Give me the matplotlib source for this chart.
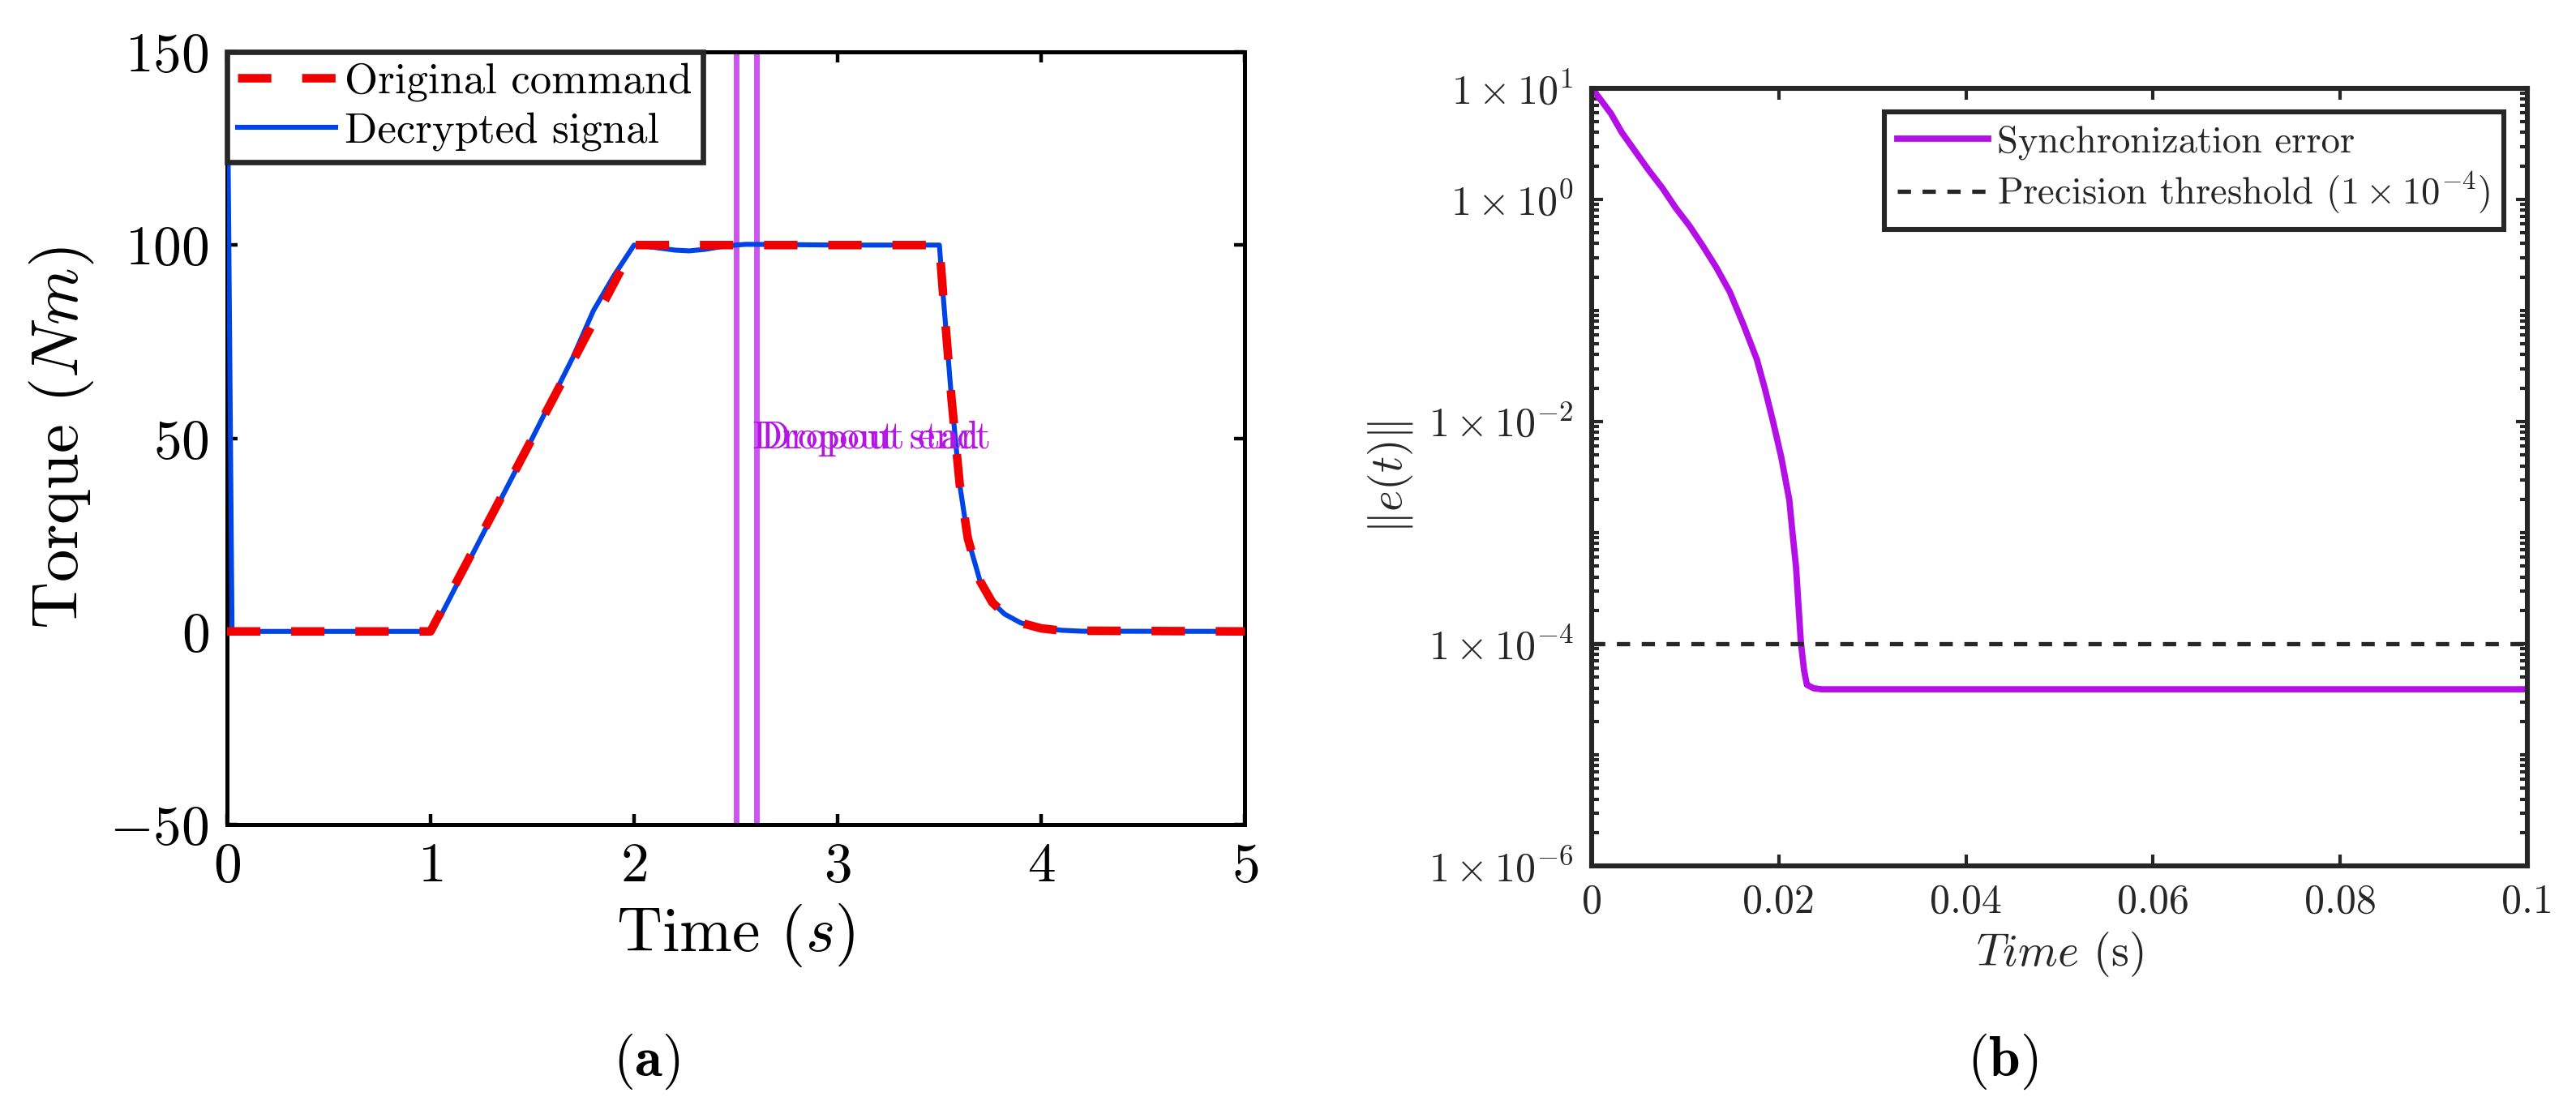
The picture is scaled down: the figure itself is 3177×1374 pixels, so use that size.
import math
import matplotlib
matplotlib.use("Agg")
import matplotlib.pyplot as plt
from matplotlib.ticker import FixedLocator, FuncFormatter, LogLocator, NullFormatter

plt.rcParams['font.family'] = 'serif'
plt.rcParams['font.serif'] = ['cmr10']
plt.rcParams['mathtext.fontset'] = 'cm'
plt.rcParams['axes.formatter.use_mathtext'] = True
plt.rcParams['axes.unicode_minus'] = True

# ---- panel (a): torque command vs decrypted signal ----
t_cmd = [0, 1.0, 2.0, 3.5, 3.52, 3.56, 3.60, 3.64, 3.70, 3.76, 3.82, 3.90, 4.0, 4.1, 5.0]
torque_cmd = [0, 0, 100, 100, 86, 60, 38, 24, 13, 7.5, 4.5, 2.2, 0.8, 0.2, 0]

t_dec = [0, 0.025, 1.0, 1.05, 1.5, 1.7, 1.8, 1.9, 2.0, 2.1, 2.2, 2.27, 2.35, 2.45, 2.55,
         2.8, 3.0, 3.5, 3.52, 3.56, 3.60, 3.64, 3.70, 3.76, 3.82, 3.90, 4.0, 4.1, 4.2, 5.0]
torque_dec = [160, 0, 0, 4, 50, 71, 83, 92, 100, 99.4, 98.7, 98.5, 98.9, 99.8, 100.2,
              100.1, 100, 100, 86, 60, 38, 24, 13, 7.5, 4.5, 2.2, 0.9, 0.3, 0.05, 0]

dropout_start = 2.5
dropout_end = 2.6

# ---- panel (b): synchronization error ----
t_err = [0, 0.00075, 0.00205, 0.00321, 0.00465, 0.00609, 0.00754, 0.00899, 0.01043,
         0.01187, 0.01332, 0.01476, 0.0162, 0.01765, 0.01852, 0.01938, 0.02025, 0.02112,
         0.0214, 0.02184, 0.02212, 0.02236, 0.0227, 0.023, 0.0237, 0.0246, 0.1]
err_norm = [10, 8.318, 5.943, 4.018, 2.710, 1.832, 1.271, 0.836, 0.581,
            0.382, 0.244, 0.147, 0.0752, 0.0363, 0.0196, 0.0100, 0.00483, 0.00197,
            1.12e-3, 4.9e-4, 2.09e-4, 1.02e-4, 5.75e-5, 4.27e-5, 3.98e-5, 3.89e-5, 3.89e-5]
threshold = 1e-4
err_ticks = [1e-6, 1e-4, 1e-2, 1e0, 1e1]

fig = plt.figure(figsize=(15.885, 6.87), dpi=200)

# panel (a)
ax1 = fig.add_axes([0.0881, 0.2598, 0.3951, 0.6936])
ax1.plot(t_dec, torque_dec, color='#0044e6', lw=2.2, label='Decrypted signal', zorder=3)
ax1.plot(t_cmd, torque_cmd, color='#f20000', lw=3.8, dashes=(3.9, 3.6),
         label='Original command', zorder=4)
ax1.axvline(dropout_start, color='#cc55f0', lw=2.5, zorder=2)
ax1.axvline(dropout_end, color='#cc55f0', lw=2.5, zorder=2)
ax1.text(dropout_start + 0.08, 50, 'Dropout start', color='#b414e6', fontsize=17.5,
         ha='left', va='center')
ax1.text(dropout_end + 0.02, 50, 'Dropout end', color='#b414e6', fontsize=17.5,
         ha='left', va='center')
ax1.set_xlim(0, 5)
ax1.set_ylim(-50, 150)
ax1.set_xticks([0, 1, 2, 3, 4, 5])
ax1.set_yticks([-50, 0, 50, 100, 150])
ax1.tick_params(direction='in', top=True, right=True, length=4.7, width=1.6,
                labelsize=25, pad=8)
for s in ax1.spines.values():
    s.set_linewidth(1.8)
ax1.set_xlabel('Time ($s$)', fontsize=28, labelpad=4)
ax1.set_ylabel('Torque ($Nm$)', fontsize=29, labelpad=6)
h, l = ax1.get_legend_handles_labels()
leg1 = ax1.legend(h[::-1], l[::-1], loc='upper left', fontsize=19, fancybox=False,
                  framealpha=1, edgecolor='#262626', borderaxespad=0.0,
                  handlelength=2.3, handletextpad=0.2, borderpad=0.25, labelspacing=0.25)
leg1.get_frame().set_linewidth(2.4)

# panel (b)
ax2 = fig.add_axes([0.6179, 0.2227, 0.3632, 0.6980])
ax2.semilogy(t_err, err_norm, color='#b50fe8', lw=2.8, label='Synchronization error')
ax2.axhline(threshold, color='#262626', lw=1.9, dashes=(3.1, 2.7),
            label=r'Precision threshold $(1\times10^{-4})$')
ax2.set_xlim(0, 0.1)
ax2.set_ylim(1e-6, 1e1)
ax2.set_xticks([0, 0.02, 0.04, 0.06, 0.08, 0.1])
ax2.xaxis.set_major_formatter(FuncFormatter(lambda v, p: '0' if v == 0 else ('%g' % v)))
ax2.yaxis.set_major_locator(FixedLocator(err_ticks))
ax2.yaxis.set_major_formatter(FuncFormatter(lambda v, p: r'$1\times10^{%d}$' % round(math.log10(v))))
ax2.yaxis.set_minor_locator(LogLocator(base=10, subs=range(1, 10), numticks=50))
ax2.yaxis.set_minor_formatter(NullFormatter())
ax2.tick_params(which='both', direction='in', top=True, right=True, colors='#262626',
                labelsize=18, width=1.5)
ax2.tick_params(which='major', length=5, pad=8)
ax2.tick_params(which='minor', length=3.2)
for s in ax2.spines.values():
    s.set_linewidth(2.2)
    s.set_color('#262626')
ax2.set_xlabel('$Time$ (s)', fontsize=20, color='#262626', labelpad=4)
ax2.set_ylabel(r'$\Vert e(t)\Vert$', fontsize=20, color='#262626', labelpad=6)
leg2 = ax2.legend(loc='upper right', fontsize=16.8, fancybox=False, framealpha=1,
                  edgecolor='#262626', borderaxespad=0.62, handlelength=2.4,
                  handletextpad=0.24, borderpad=0.35, labelspacing=0.28)
leg2.get_frame().set_linewidth(2.2)
for t in leg2.get_texts():
    t.set_color('#262626')

fig.text(797 / 3177, 0.047, r'($\mathbf{a}$)', fontsize=25, ha='center', va='center')
fig.text(2470 / 3177, 0.047, r'($\mathbf{b}$)', fontsize=25, ha='center', va='center')

fig.savefig('out.png', dpi=200)
